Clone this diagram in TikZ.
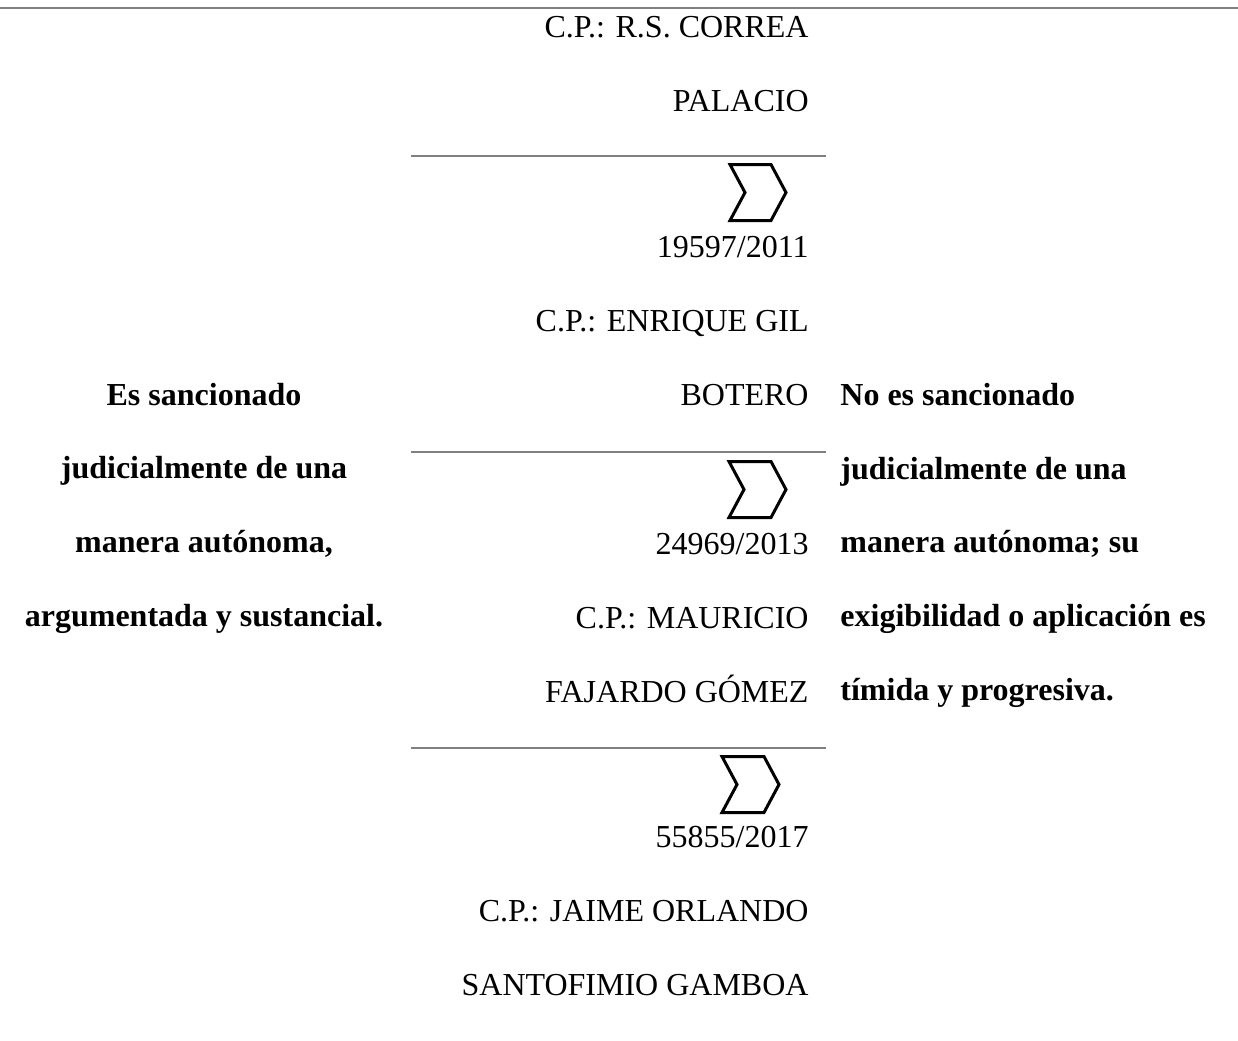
\documentclass[tikz,border=0pt]{standalone}
\usepackage{fontspec}
\setmainfont{Liberation Serif}

\begin{document}
\begin{tikzpicture}[%
  x=0.5pt, y=-0.5pt,
  grayrule/.style={draw=gray, line width=1pt},
  chev/.style={draw=black, line width=1.5pt, line join=miter},
  ctext/.style={font=\fontsize{16}{36.8}\selectfont, align=right,
    anchor=base east, inner sep=0pt},
  vtext/.style={font=\fontsize{16}{36.8}\selectfont\bfseries, inner sep=0pt}]
\useasboundingbox (0,0) rectangle (1238,1040);
\draw[grayrule] (0,7.5) -- (1238,7.5);

% magistrates, right aligned (base = last line)
\node[ctext] (correa) at (809,111) {C.P.: R.S. CORREA\\PALACIO};
\node[ctext] (gil) at (809,405) {19597/2011\\C.P.: ENRIQUE GIL\\BOTERO};
\node[ctext] (fajardo) at (809,702) {24969/2013\\C.P.: MAURICIO\\FAJARDO GÓMEZ};
\node[ctext] (santofimio) at (809,995) {55855/2017\\C.P.: JAIME ORLANDO\\SANTOFIMIO GAMBOA};

% separators and chevrons
\draw[grayrule] (411,155.5) -- (826,155.5);
\draw[chev] (730,164.5) -- ++(41,0) -- ++(15,28) -- ++(-15,28) -- ++(-41,0) -- ++(15,-28) -- cycle;
\draw[grayrule] (411,452) -- (826,452);
\draw[chev] (729,461.5) -- ++(42,0) -- ++(15,28) -- ++(-15,28) -- ++(-42,0) -- ++(15,-28) -- cycle;
\draw[grayrule] (411,748) -- (826,748);
\draw[chev] (722,756.5) -- ++(42,0) -- ++(15,28) -- ++(-15,28) -- ++(-42,0) -- ++(15,-28) -- cycle;

% the two readings
\node[vtext, align=center, anchor=base] (yes) at (204,626)
  {Es sancionado\\judicialmente de una\\manera autónoma,\\argumentada y sustancial.};
\node[vtext, align=left, anchor=base west] (no) at (840,700)
  {No es sancionado\\judicialmente de una\\manera autónoma; su\\exigibilidad o aplicación es\\tímida y progresiva.};
\end{tikzpicture}
\end{document}
